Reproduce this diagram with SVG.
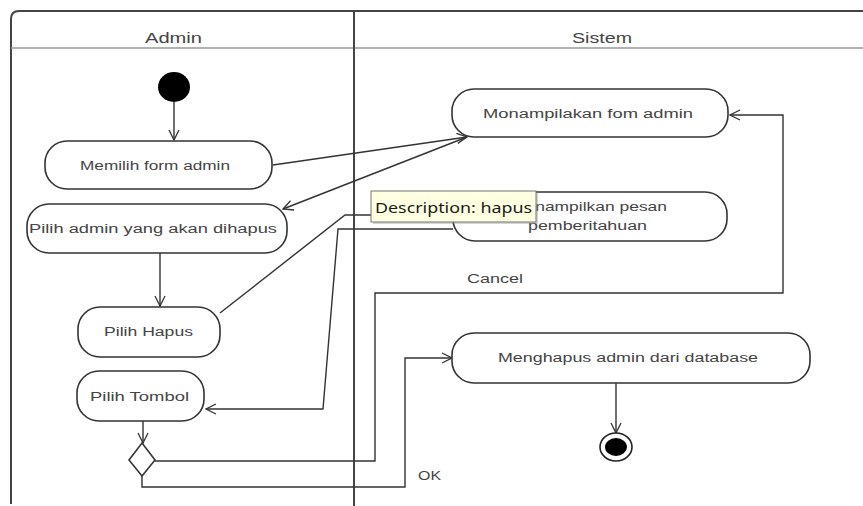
<svg xmlns="http://www.w3.org/2000/svg" width="863" height="506" viewBox="0 0 863 506">
<defs>
<marker id="arr" viewBox="0 0 12 12" refX="11" refY="6" markerWidth="12" markerHeight="12" markerUnits="userSpaceOnUse" orient="auto">
<path d="M1,1 L11,6 L1,11" fill="none" stroke="#333" stroke-width="1.3"/>
</marker>
<style>
.frame{fill:none;stroke:#444;stroke-width:2}
.hdr{fill:none;stroke:#999;stroke-width:1.5}
.act{fill:#fff;stroke:#333;stroke-width:1.6}
.t{font-family:"Liberation Sans",Arial,sans-serif;font-size:12px;fill:#444}
.h{font-family:"Liberation Sans",Arial,sans-serif;font-size:14px;fill:#444}
.c{fill:none;stroke:#333;stroke-width:1.4;marker-end:url(#arr)}
.tip{font-family:"Noto Sans","Open Sans",sans-serif;font-size:15px;fill:#1a1a1a}
</style>
</defs>
<rect width="863" height="506" fill="#fff"/>
<g id="frame">
<path class="frame" d="M11,504 V19 Q11,11 19,11 H863"/>
<line class="hdr" x1="11" y1="48" x2="863" y2="48"/>
<line class="frame" x1="354" y1="11" x2="354" y2="506"/>
<text class="h" x="145" y="43" textLength="57" lengthAdjust="spacingAndGlyphs">Admin</text>
<text class="h" x="572" y="43" textLength="60" lengthAdjust="spacingAndGlyphs">Sistem</text>
</g>
<g id="connectors">
<path class="c" d="M174,102 V140"/>
<path class="c" d="M273,165 L467,137"/>
<path class="c" d="M467,137 L283,209"/>
<path class="c" d="M160,253 V306"/>
<path class="c" d="M220,313 L345,215 H453"/>
<path class="c" d="M453,229 H338 L323,409 H206"/>
<path class="c" d="M143,421 V443"/>
<path class="c" d="M155,461 H375 V293 H783 V115 H730"/>
<path class="c" d="M142,476 V487 H405 V358 H452"/>
<path class="c" d="M616,383 V433"/>
<text class="t" x="467" y="283" textLength="56" lengthAdjust="spacingAndGlyphs">Cancel</text>
<text class="t" x="418" y="480" textLength="23" lengthAdjust="spacingAndGlyphs">OK</text>
</g>
<g id="start"><ellipse cx="174" cy="87" rx="16" ry="15" fill="#000"/></g>
<g id="memilih">
<rect class="act" x="45" y="141" width="227" height="48" rx="22"/>
<text class="t" x="80" y="170" textLength="150" lengthAdjust="spacingAndGlyphs">Memilih form admin</text>
</g>
<g id="pilihAdmin">
<rect class="act" x="27" y="204" width="260" height="49" rx="22"/>
<text class="t" x="29" y="233" textLength="248" lengthAdjust="spacingAndGlyphs">Pilih admin yang akan dihapus</text>
</g>
<g id="pilihHapus">
<rect class="act" x="78" y="307" width="142" height="50" rx="22"/>
<text class="t" x="104" y="336" textLength="89" lengthAdjust="spacingAndGlyphs">Pilih Hapus</text>
</g>
<g id="pilihTombol">
<rect class="act" x="77" y="371" width="127" height="50" rx="22"/>
<text class="t" x="90" y="401" textLength="99" lengthAdjust="spacingAndGlyphs">Pilih Tombol</text>
</g>
<g id="decision"><polygon class="act" points="142,443 155,460 142,476 129,460"/></g>
<g id="monampilakan">
<rect class="act" x="452" y="89" width="276" height="48" rx="22"/>
<text class="t" x="483" y="118" textLength="210" lengthAdjust="spacingAndGlyphs">Monampilakan fom admin</text>
</g>
<g id="menampilkanPesan">
<rect class="act" x="453" y="192" width="274" height="49" rx="22"/>
<text class="t" x="511" y="211" textLength="156" lengthAdjust="spacingAndGlyphs">Menampilkan pesan</text>
<text class="t" x="528" y="230" textLength="119" lengthAdjust="spacingAndGlyphs">pemberitahuan</text>
</g>
<g id="menghapus">
<rect class="act" x="452" y="333" width="358" height="50" rx="22"/>
<text class="t" x="498" y="362" textLength="260" lengthAdjust="spacingAndGlyphs">Menghapus admin dari database</text>
</g>
<g id="end">
<ellipse cx="616" cy="447" rx="16" ry="14" fill="#fff" stroke="#222" stroke-width="1.6"/>
<ellipse cx="616" cy="447" rx="11" ry="9" fill="#000"/>
</g>
<g id="tooltip">
<rect x="373" y="193" width="165" height="31" fill="#888" opacity="0.35"/>
<rect x="371" y="191" width="165" height="31" fill="#ffffe1" stroke="#767676" stroke-width="1"/>
<text class="tip" x="375" y="213" textLength="157" lengthAdjust="spacingAndGlyphs">Description: hapus</text>
</g>
</svg>
